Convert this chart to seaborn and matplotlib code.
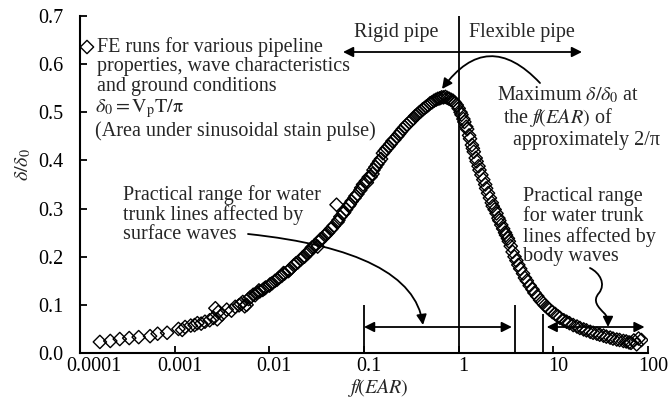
import numpy as np
import pandas as pd
import matplotlib
matplotlib.use("Agg")
import matplotlib.pyplot as plt
import matplotlib.transforms as mtransforms
from matplotlib.patches import FancyArrowPatch
from matplotlib.path import Path
import seaborn as sns

# ---------------- data ----------------
fe_log10_x_a = [-3.79, -3.68, -3.58, -3.48, -3.38, -3.26, -3.18, -3.08, -2.96, -2.92,
                -2.89, -2.83, -2.79, -2.76, -2.72, -2.68, -2.63, -2.59, -2.57, -2.55,
                -2.54, -2.50, -2.45, -2.40, -2.36, -2.32, -2.28, -2.26, -2.24, -2.20,
                -2.17, -2.13, -2.10, -2.07, -2.04, -2.00, -1.97, -1.94, -1.90, -1.87,
                -1.84, -1.80, -1.77, -1.74, -1.70, -1.67, -1.63, -1.60, -1.57, -1.55,
                -1.52, -1.49, -1.47, -1.44, -1.41, -1.38, -1.35, -1.32, -1.29, -1.28,
                -1.25, -1.22, -1.19, -1.16, -1.13, -1.10, -1.07, -1.04, -1.01, -0.98,
                -0.95, -0.91, -0.90, -0.86, -0.82, -0.80, -0.76, -0.72, -0.68, -0.65,
                -0.61, -0.57, -0.52, -0.48, -0.44, -0.40, -0.36, -0.32, -0.28, -0.24,
                -0.20, -0.16, -0.12, -0.08, -0.04, 0.00, 0.03, 0.06, 0.09, 0.11,
                0.14, 0.16, 0.19, 0.22, 0.26, 0.29, 0.33, 0.36, 0.40, 0.43,
                0.47, 0.50, 0.53, 0.57, 0.61, 0.65, 0.70, 0.75, 0.80, 0.86,
                0.91, 0.96, 1.02, 1.07, 1.14, 1.21, 1.28, 1.35, 1.42, 1.49,
                1.56, 1.63, 1.70, 1.77, 1.82, 1.88, 1.90, 1.93]
fe_ratio_a = [0.023, 0.025, 0.029, 0.031, 0.033, 0.035, 0.040, 0.042, 0.050, 0.048,
              0.054, 0.057, 0.058, 0.062, 0.061, 0.065, 0.068, 0.073, 0.093, 0.070,
              0.085, 0.080, 0.090, 0.088, 0.096, 0.099, 0.106, 0.097, 0.100, 0.116,
              0.121, 0.125, 0.128, 0.131, 0.136, 0.140, 0.145, 0.150, 0.156, 0.160,
              0.165, 0.170, 0.176, 0.182, 0.188, 0.194, 0.200, 0.206, 0.212, 0.219,
              0.224, 0.221, 0.232, 0.238, 0.244, 0.250, 0.257, 0.264, 0.308, 0.272,
              0.283, 0.290, 0.298, 0.306, 0.315, 0.322, 0.330, 0.338, 0.350, 0.357,
              0.365, 0.372, 0.380, 0.392, 0.403, 0.415, 0.425, 0.434, 0.443, 0.450,
              0.460, 0.469, 0.479, 0.487, 0.495, 0.502, 0.509, 0.515, 0.521, 0.526,
              0.529, 0.531, 0.530, 0.526, 0.520, 0.508, 0.495, 0.480, 0.465, 0.452,
              0.432, 0.418, 0.398, 0.380, 0.360, 0.342, 0.322, 0.305, 0.290, 0.275,
              0.258, 0.245, 0.232, 0.210, 0.192, 0.175, 0.156, 0.140, 0.125, 0.110,
              0.099, 0.090, 0.081, 0.073, 0.065, 0.058, 0.052, 0.047, 0.042, 0.038,
              0.034, 0.030, 0.027, 0.024, 0.021, 0.018, 0.030, 0.027]

fe_log10_x_b = [-2.30, -2.22, -2.15, -2.11, -2.05, -1.99, -1.92, -1.85, -1.79, -1.72,
                -1.65, -1.59, -1.53, -1.46, -1.40, -1.34, -1.27, -1.21, -1.15, -1.09,
                -1.03, -0.97, -0.93, -0.88, -0.84, -0.78, -0.74, -0.70, -0.63, -0.59,
                -0.55, -0.50, -0.46, -0.42, -0.38, -0.34, -0.30, -0.26, -0.22, -0.18,
                -0.14, -0.10, -0.06, -0.02, 0.02, 0.05, 0.08, 0.12, 0.15, 0.18,
                0.21, 0.24, 0.28, 0.31, 0.35, 0.38, 0.42, 0.45, 0.49, 0.52,
                0.55, 0.59, 0.63, 0.68, 0.72, 0.78, 0.83, 0.88, 0.94, 0.99,
                1.05, 1.11, 1.17, 1.25, 1.32, 1.39, 1.46, 1.53, 1.60, 1.67,
                1.74, 1.80, 1.85]
fe_ratio_b = [0.102, 0.112, 0.120, 0.130, 0.134, 0.143, 0.152, 0.166, 0.172, 0.186,
              0.198, 0.210, 0.220, 0.236, 0.247, 0.259, 0.276, 0.292, 0.309, 0.326,
              0.343, 0.354, 0.366, 0.386, 0.398, 0.420, 0.429, 0.440, 0.455, 0.465,
              0.474, 0.483, 0.492, 0.499, 0.506, 0.512, 0.519, 0.524, 0.528, 0.531,
              0.532, 0.528, 0.524, 0.515, 0.500, 0.486, 0.470, 0.445, 0.425, 0.405,
              0.388, 0.370, 0.350, 0.332, 0.312, 0.298, 0.280, 0.266, 0.250, 0.238,
              0.222, 0.200, 0.183, 0.165, 0.150, 0.132, 0.118, 0.106, 0.094, 0.085,
              0.076, 0.068, 0.062, 0.055, 0.049, 0.044, 0.040, 0.036, 0.032, 0.028,
              0.025, 0.022, 0.026]

x_ticks = [0.0001, 0.001, 0.01, 0.1, 1, 10, 100]
x_tick_labels = ["0.0001", "0.001", "0.01", "0.1", "1", "10", "100"]
y_ticks = [0.0, 0.1, 0.2, 0.3, 0.4, 0.5, 0.6, 0.7]
y_tick_labels = ["0.0", "0.1", "0.2", "0.3", "0.4", "0.5", "0.6", "0.7"]

rigid_flexible_boundary = 1.0
surface_range = [0.1, 3.9]
body_range_line = 7.8
surface_arrow = [0.1, 3.65]
body_arrow = [8.5, 92.0]

df = pd.DataFrame({
    "x": 10.0 ** np.array(fe_log10_x_a + fe_log10_x_b),
    "ratio": fe_ratio_a + fe_ratio_b,
})

# ---------------- style ----------------
sns.set_style("ticks")
plt.rcParams["font.family"] = ["Liberation Serif", "DejaVu Serif"]
plt.rcParams["mathtext.fontset"] = "stix"
plt.rcParams["xtick.direction"] = "in"
plt.rcParams["ytick.direction"] = "in"

FS = 14.5
TFS = 14.5

fig = plt.figure(figsize=(6.7, 4.0), dpi=100)
W, H = 670, 400
AXL, AXR, AXB, AXT = 80, 648, 353, 16
ax = fig.add_axes([AXL / W, 1 - AXB / H, (AXR - AXL) / W, (AXB - AXT) / H])


def af(px, py):
    """image pixel -> axes fraction"""
    return ((px - AXL) / (AXR - AXL), (AXB - py) / (AXB - AXT))


MS = 46
sns.scatterplot(data=df, x="x", y="ratio", ax=ax, marker="D", s=MS,
                facecolor="none", edgecolor="black", linewidth=1.0, zorder=3,
                legend=False)

ax.set_xscale("log")
ax.set_xlim(1e-4, 100)
ax.set_ylim(0, 0.7)
ax.set_xticks(x_ticks)
ax.set_xticklabels(x_tick_labels, fontsize=TFS)
ax.set_yticks(y_ticks)
ax.set_yticklabels(y_tick_labels, fontsize=TFS)
ax.minorticks_off()
ax.tick_params(axis="both", length=5, width=1.3, colors="black")
ax.tick_params(axis="y", pad=12)
ax.tick_params(axis="x", pad=3)
for s in ["top", "right"]:
    ax.spines[s].set_visible(False)
for s in ["left", "bottom"]:
    ax.spines[s].set_linewidth(1.5)
    ax.spines[s].set_color("black")

# shift x tick labels slightly right as in the reference
for i, lab in enumerate(ax.get_xticklabels()):
    dx = 14 if i == 0 else 5
    lab.set_transform(lab.get_transform() +
                      mtransforms.ScaledTranslation(dx / 100, 0, fig.dpi_scale_trans))

ax.set_xlabel(r"$f\!/\!(EAR)$", fontsize=FS)
ax.set_ylabel(r"$\delta/\delta_0$", fontsize=FS)
ax.xaxis.set_label_coords(*af(378, 377))
ax.yaxis.set_label_coords(*af(33, 165))

# ---------------- reference lines ----------------
LW = 1.3
ax.axvline(rigid_flexible_boundary, color="black", lw=LW, zorder=4)
ax.vlines(surface_range, 0, 0.1, color="black", lw=LW, zorder=4)
ax.vlines(body_range_line, 0, 0.08, color="black", lw=LW, zorder=4)

arrow_kw = dict(arrowstyle="<|-|>", color="black", lw=LW, mutation_scale=15,
                shrinkA=0, shrinkB=0)
ax.annotate("", xy=(surface_arrow[0], 0.054), xytext=(surface_arrow[1], 0.054),
            arrowprops=arrow_kw, zorder=4)
ax.annotate("", xy=(body_arrow[0], 0.054), xytext=(body_arrow[1], 0.054),
            arrowprops=arrow_kw, zorder=4)
ax.annotate("", xy=af(343, 52), xytext=af(582, 52), xycoords="axes fraction",
            textcoords="axes fraction", arrowprops=arrow_kw, zorder=4)

# ---------------- text ----------------
tkw = dict(transform=ax.transAxes, fontsize=FS, va="center", ha="left", zorder=2)
ax.scatter(*af(87, 47), transform=ax.transAxes, marker="D", s=MS,
           facecolor="none", edgecolor="black", linewidth=1.0, clip_on=False)
ax.text(*af(97, 47), "FE runs for various pipeline", **tkw)
ax.text(*af(97, 67), "properties, wave characteristics", **tkw)
ax.text(*af(97, 87), "and ground conditions", **tkw)
ax.text(*af(95, 109), r"$\delta_0 = \mathrm{V_pT}/\mathrm{\pi}$", **tkw)
ax.text(*af(95, 131), "(Area under sinusoidal stain pulse)", **tkw)

ax.text(*af(396, 33), "Rigid pipe", **{**tkw, "ha": "center"})
ax.text(*af(522, 33), "Flexible pipe", **{**tkw, "ha": "center"})

ax.text(*af(497, 95), r"Maximum $\delta/\delta_0$ at", **tkw)
ax.text(*af(503, 118), r"the $f\!/\!(EAR)$ of", **tkw)
ax.text(*af(513, 141), "approximately 2/π", **tkw)

ax.text(*af(123, 195), "Practical range for water", **tkw)
ax.text(*af(123, 215), "trunk lines affected by", **tkw)
ax.text(*af(123, 235), "surface waves", **tkw)

ax.text(*af(523, 197), "Practical range", **tkw)
ax.text(*af(523, 217), "for water trunk", **tkw)
ax.text(*af(523, 237), "lines affected by", **tkw)
ax.text(*af(523, 257), "body waves", **tkw)

# ---------------- curved pointers ----------------
head_kw = dict(arrowstyle="-|>", color="black", lw=LW, mutation_scale=15,
               shrinkA=0, shrinkB=0)
ax.annotate("", xy=af(442, 89), xytext=af(540, 83), xycoords="axes fraction",
            textcoords="axes fraction",
            arrowprops={**head_kw, "connectionstyle": "arc3,rad=0.6"}, zorder=5)
ax.annotate("", xy=af(423, 325), xytext=af(248, 234), xycoords="axes fraction",
            textcoords="axes fraction",
            arrowprops={**head_kw, "connectionstyle": "angle3,angleA=-6,angleB=98"},
            zorder=5)

sq_pts = [af(590, 268),
          af(600, 273), af(606, 284), af(599, 293),
          af(592, 301), af(598, 307), af(605, 314),
          af(608, 318), af(608, 322), af(608, 327)]
sq_codes = [Path.MOVETO] + [Path.CURVE4] * 9
squig = FancyArrowPatch(path=Path(sq_pts, sq_codes), arrowstyle="-|>",
                        color="black", lw=LW, mutation_scale=15,
                        transform=ax.transAxes, zorder=5, clip_on=False)
ax.add_patch(squig)

fig.savefig("out.png", dpi=100)
